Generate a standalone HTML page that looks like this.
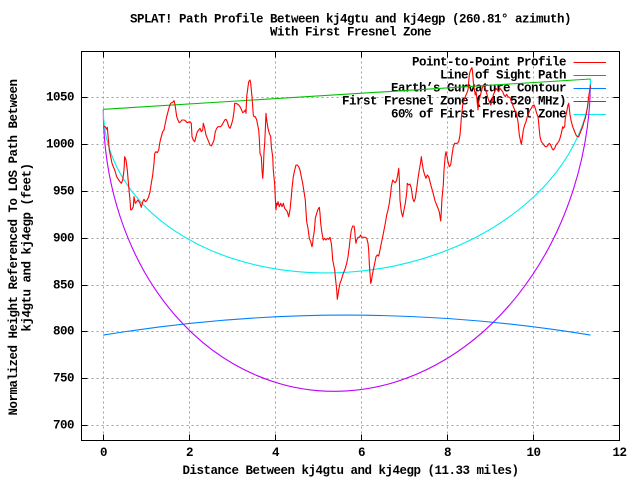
<!DOCTYPE html>
<html><head><meta charset="utf-8"><style>
html,body{margin:0;padding:0;background:#fff}
svg{display:block}
text{font-family:"Liberation Mono","DejaVu Sans Mono",monospace;font-weight:bold;font-size:12.5px;letter-spacing:-0.5px;fill:#000}
</style></head><body>
<svg width="640" height="480" viewBox="0 0 640 480" xmlns="http://www.w3.org/2000/svg">
<rect x="0" y="0" width="640" height="480" fill="#fff"/>
<!-- grid -->
<g stroke="#a0a0a0" stroke-width="1" stroke-dasharray="2,3" fill="none">
<line x1="81.5" y1="97.5" x2="619.5" y2="97.5"/>
<line x1="81.5" y1="144.5" x2="619.5" y2="144.5"/>
<line x1="81.5" y1="191.5" x2="619.5" y2="191.5"/>
<line x1="81.5" y1="238.5" x2="619.5" y2="238.5"/>
<line x1="81.5" y1="285.5" x2="619.5" y2="285.5"/>
<line x1="81.5" y1="331.5" x2="619.5" y2="331.5"/>
<line x1="81.5" y1="378.5" x2="619.5" y2="378.5"/>
<line x1="81.5" y1="425.5" x2="619.5" y2="425.5"/>
<line x1="103.5" y1="51.5" x2="103.5" y2="440.5"/>
<line x1="189.5" y1="51.5" x2="189.5" y2="440.5"/>
<line x1="275.5" y1="51.5" x2="275.5" y2="440.5"/>
<line x1="361.5" y1="51.5" x2="361.5" y2="440.5"/>
<line x1="447.5" y1="51.5" x2="447.5" y2="440.5"/>
<line x1="533.5" y1="51.5" x2="533.5" y2="440.5"/>
</g>
<!-- ticks -->
<g stroke="#000" stroke-width="1">
<path d="M81.5 97.5h6M81.5 144.5h6M81.5 191.5h6M81.5 238.5h6M81.5 285.5h6M81.5 331.5h6M81.5 378.5h6M81.5 425.5h6"/>
<path d="M619.5 97.5h-6M619.5 144.5h-6M619.5 191.5h-6M619.5 238.5h-6M619.5 285.5h-6M619.5 331.5h-6M619.5 378.5h-6M619.5 425.5h-6"/>
<path d="M103.5 440.5v-6M189.5 440.5v-6M275.5 440.5v-6M361.5 440.5v-6M447.5 440.5v-6M533.5 440.5v-6"/>
<path d="M103.5 51.5v6M189.5 51.5v6M275.5 51.5v6M361.5 51.5v6M447.5 51.5v6M533.5 51.5v6"/>
</g>
<rect x="81.5" y="51.5" width="538" height="389" fill="none" stroke="#000" stroke-width="1"/>

<!-- tick labels -->
<g text-anchor="end" dominant-baseline="central">
<text x="74" y="97.5">1050</text>
<text x="74" y="144.5">1000</text>
<text x="74" y="191.5">950</text>
<text x="74" y="238.5">900</text>
<text x="74" y="285.5">850</text>
<text x="74" y="331.5">800</text>
<text x="74" y="378.5">750</text>
<text x="74" y="425.5">700</text>
</g>
<g text-anchor="middle" dominant-baseline="central">
<text x="103.5" y="453">0</text>
<text x="189.5" y="453">2</text>
<text x="275.5" y="453">4</text>
<text x="361.5" y="453">6</text>
<text x="447.5" y="453">8</text>
<text x="533.5" y="453">10</text>
<text x="619.5" y="453">12</text>
<text x="350.5" y="471">Distance Between kj4gtu and kj4egp (11.33 miles)</text>
<text x="350.5" y="19.5">SPLAT! Path Profile Between kj4gtu and kj4egp (260.81° azimuth)</text>
<text x="350.5" y="32.5">With First Fresnel Zone</text>
<text transform="translate(14,247.5) rotate(-90)">Normalized Height Referenced To LOS Path Between</text>
<text transform="translate(27.5,247.5) rotate(-90)">kj4gtu and kj4egp (feet)</text>
</g>

<!-- legend -->
<g text-anchor="end" dominant-baseline="central">
<text x="566" y="62.3">Point-to-Point Profile</text>
<text x="566" y="75.3">Line of Sight Path</text>
<text x="566" y="88.3">Earth’s Curvature Contour</text>
<text x="566" y="101.3">First Fresnel Zone (146.520 MHz)</text>
<text x="566" y="114.3">60% of First Fresnel Zone</text>
</g>
<g stroke-width="1" fill="none">
<line x1="573.5" y1="62.5" x2="606" y2="62.5" stroke="#ff0000"/>
<line x1="573.5" y1="75.5" x2="606" y2="75.5" stroke="#00c000"/>
<line x1="573.5" y1="88.5" x2="606" y2="88.5" stroke="#0080ff"/>
<line x1="573.5" y1="101.5" x2="606" y2="101.5" stroke="#c000ff"/>
<line x1="573.5" y1="114.5" x2="606" y2="114.5" stroke="#00eeee"/>
</g>

<!-- series -->
<g fill="none" stroke-width="1.1">
<!-- Earth's curvature -->
<path d="M103.3 335.1 Q346.9 295.1 590.5 335.1" stroke="#0080ff"/>
<!-- Fresnel zone -->
<path transform="matrix(243.6 -15.15 0 296.8 346.9 94.15)" d="M-1 0 A1 1 0 0 0 1 0" stroke="#c000ff" vector-effect="non-scaling-stroke"/>
<!-- 60% Fresnel -->
<path transform="matrix(243.6 -15.15 0 178.1 346.9 94.15)" d="M-1 0 A1 1 0 0 0 1 0" stroke="#00eeee" vector-effect="non-scaling-stroke"/>
<!-- LOS -->
<line x1="103.3" y1="109.3" x2="590.5" y2="79" stroke="#00c000"/>
<!-- Terrain profile -->
<polyline stroke="#ff0000" stroke-linejoin="round" points="104,126.7 105.3,126.7 106.7,129.3 107.3,127.3 108,135 109.3,150 110.7,156.7 112,163.3 113.3,166.7 114.7,170 116.7,176.7 118.7,180 120,181.7 121.3,183.3 122.7,180 124,170 124.7,156.7 126,160 127.3,170 128.7,186.7 130,200 130.7,210 132,209.3 133.3,206.7 134,196.7 135.3,203.3 136.7,201.7 138,200 140,203.3 141.3,207.3 142.7,201.7 144,199.3 145.3,201.7 146.7,200.7 148.7,196.7 150,191.7 151.3,183.3 152.7,175 154,163.3 154.7,153.3 156,151.7 157.3,152.7 158.7,150 160,141.7 161.3,136.7 162.7,131.7 164,130 165.3,123.3 166.7,116.7 168,111.7 169.3,106.7 170.7,103.3 172,102.7 173.3,101.7 174,100.7 174.7,103.3 175.3,106.7 176.7,116.7 178,120 179.3,122.7 180.7,121.7 182,120 184,120 185.3,120.7 187.3,122.7 190,121.7 191.3,123.3 192,136.7 193.3,140 194.7,141.7 196,136.7 197.3,131.7 198.7,130 200,128.3 201.3,131.7 202.7,130 203.3,123.3 204.7,128.3 206,135 207.3,138.3 208.7,141.7 210,145 211.3,146 212.7,143.3 214,140 215.3,131.7 216.7,128.3 218,126.7 220.7,126.7 222,125 223.3,122.7 224.7,120 226,119.3 227.3,121.7 228.7,126.7 230,128.3 231.3,125 232.7,120 234,111.7 234.7,103.3 236,103.3 237.3,104 238.7,105 240,106.7 241.3,109.3 242.7,112.7 244,111.7 245.3,110 246,113.3 246.7,96.7 248,86.7 248.7,81.7 250,80 250.7,83.3 251.3,90 252,96.7 252.7,106.7 253.3,115 254,116.7 255.3,116.7 256.7,120 258,126.7 258.7,130 259.3,138.3 260,153.3 261.3,156.7 262,170 262.7,178.3 263.3,170 264,151.7 264.7,143.3 265.3,130 266,113.3 266.7,120 268,128.3 269.3,133.3 270.7,136.7 271.3,146.7 272.7,156.7 273.3,170 274.7,185 275.3,198.3 276,210 276.7,203.3 277.3,205 278,201.7 279.3,206.7 280.7,203.3 282,206.7 283.3,203.3 284.7,208.3 286,210 287.3,211.7 288.7,216.7 290,210 291.3,196.7 292,188.3 293.3,176.7 294.7,170 296,165 297.3,165 298.7,166.7 300,170 301.3,176.7 302.7,183.3 304,191.7 305.3,200 306,211.7 306.7,221.7 308,228.3 309.3,238.3 310.7,241.7 312,246.7 312.7,243.3 313.3,236.7 314,233.3 314.7,226.7 315.3,218.3 316.7,213.3 318,209.3 319.3,207.3 320,213.3 320.7,223.3 322,233.3 323.3,240 324.7,238.3 326,240 327.3,238.3 328.7,239.3 330,237.3 331.3,243.3 332,250 332.7,260 334,266.7 334.7,270 335.3,276.7 336.7,290 337.3,299.3 338,295 338.7,290 340,283.3 341.3,280 342.7,275 344,271.7 345.3,268.3 346.7,263.3 348,256.7 349.3,246.7 350,240 351.3,230 352.7,226 354,226 354.7,230 355.3,238.3 356,243.3 356.7,240 358,237.3 359.3,237.3 360.7,235 361.3,236.7 362.7,237.3 365.3,237.3 366.7,238.3 368,243.3 368.7,250 369.3,263.3 370,273.3 370.7,283.3 371.3,281.7 372,276.7 373.3,270 374.7,263.3 376,256.7 377.3,255 378.7,256 380,250 381.3,243.3 382.7,236.7 384,230 385.3,223.3 386.7,215 388,210 389.3,203.3 390.7,193.3 391.3,186.7 392.7,180 394,181.7 395.3,182.7 396.7,180 398,173.3 398.7,168.3 399.3,178.3 400,200 401.3,211.7 402.7,216.7 404,210 405.3,203.3 406.7,193.3 407.3,183.3 408.7,185 410,184 411.3,188.3 412.7,198.3 414,201.7 415.3,198.3 416.7,188.3 418,178.3 419.3,170 420.7,161.7 421.3,156.7 422,161.7 423.3,170 424.7,175 426,178.3 427.3,175 428.7,176.7 430,181.7 431.3,186.7 432.7,191.7 434,196.7 435.3,201.7 436.7,205 438,208.3 439.3,212 440.7,221 441.3,211.7 442,198.3 443.3,185 444,170 445.3,155 446,151.7 446.7,155 448,161.7 449.3,166.7 450.7,165 452,155 453.3,146.7 454.7,143.3 457.3,143.3 458.7,141.7 460,135 460.7,126.7 461.3,118.3 462,111.7 462.7,105 463.3,101.7 464,100 465.3,96.7 466.7,93.3 468,90 468.7,81.7 469.3,75 470,71.7 470.7,70 471.3,68.3 472,67.7 472.7,73.3 473.3,81.7 474.7,91.7 475.3,95 476,91.7 476.7,96.7 477.3,103.3 478,110 478.7,101.7 480,96.7 481.3,91.7 482.7,86.7 484,86.7 485.3,88.3 486.7,93.3 488,98.3 489.3,101.7 490.7,105 492,101.7 493.3,95 494.7,91.7 496,88.3 497.3,90 498.7,91.7 500,88.3 501.3,90 502.7,91.7 504,95 505.3,96.7 506.7,94.3 508,96.7 510,97.5 511.3,101.7 512.7,105 514,108.3 515.3,111.7 516.7,115 518,121.7 519.3,135 520.7,141.7 521.3,144.3 522,140 522.7,135 523.3,130 524.7,125 526,121.7 527.3,116.7 528.7,113.3 530,110 531.3,108.3 532.7,105.7 534,105 535.3,108.3 536.7,113.3 538,116.7 538.7,123.3 539.3,130 540,136.7 541.3,141.7 542.7,143.3 544,145 545.3,146.7 546.7,146.7 548,145 549.3,143.3 550.7,145 552,148.3 553.3,150 554.7,148.3 556,145 557.3,143.3 558.7,141.7 560,138.3 561.3,133.3 562,130 562.7,126.7 563.3,128.3 564.7,126.7 565.3,118.3 566.7,111.7 568,105 568.7,103.3 569.3,108.3 570,115 571.3,121.7 572.7,126.7 574,130 575.3,133.3 576,135 577.3,136.7 578.7,136.7 580,133.3 581.3,130 582.7,126.7 584,121.7 585.3,118.3 586,115 587.3,108.3 588.7,96.7 590,88.3 590.5,85"/>
</g>
</svg>
</body></html>
